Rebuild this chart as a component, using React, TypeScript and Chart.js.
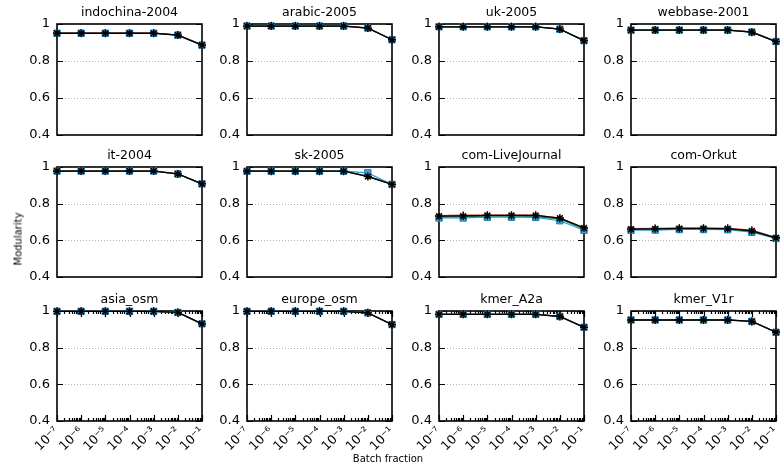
import React, { useEffect, useRef } from 'react';
import { Chart, registerables } from 'chart.js';
Chart.register(...registerables);

const FONT = '"DejaVu Sans", Verdana, sans-serif';

const xValues = [1e-7, 1e-6, 1e-5, 1e-4, 1e-3, 1e-2, 1e-1];
const xTickLabels = ['10⁻⁷', '10⁻⁶', '10⁻⁵', '10⁻⁴', '10⁻³', '10⁻²', '10⁻¹'];
const xMinorTicks = [2, 3, 4, 5, 6, 7, 8, 9];
const yTickValues = [0.4, 0.6, 0.8, 1];
const yTickLabels = ['0.4', '0.6', '0.8', '1'];
const yGridValues = [0.6, 0.8];

// series order in each panel: [blue squares, red plus, green x, black star]
const seriesColors = ['#2e9bd6', '#d42a2a', '#0f7a5c', '#000000'];
const seriesPointStyles = ['rect', 'cross', 'crossRot', 'star'];

const indochina2004 = [
  [0.950, 0.950, 0.950, 0.950, 0.950, 0.940, 0.886],
  [0.951, 0.951, 0.951, 0.951, 0.951, 0.941, 0.887],
  [0.950, 0.950, 0.950, 0.950, 0.950, 0.940, 0.886],
  [0.950, 0.950, 0.950, 0.950, 0.950, 0.940, 0.886],
];
const arabic2005 = [
  [0.989, 0.989, 0.989, 0.989, 0.989, 0.978, 0.915],
  [0.990, 0.990, 0.990, 0.990, 0.990, 0.979, 0.916],
  [0.989, 0.989, 0.989, 0.989, 0.989, 0.978, 0.915],
  [0.989, 0.989, 0.989, 0.989, 0.989, 0.978, 0.915],
];
const uk2005 = [
  [0.985, 0.985, 0.985, 0.985, 0.985, 0.972, 0.910],
  [0.986, 0.986, 0.986, 0.986, 0.986, 0.973, 0.911],
  [0.985, 0.985, 0.985, 0.985, 0.985, 0.972, 0.910],
  [0.985, 0.985, 0.985, 0.985, 0.985, 0.972, 0.910],
];
const webbase2001 = [
  [0.967, 0.967, 0.967, 0.967, 0.967, 0.956, 0.905],
  [0.968, 0.968, 0.968, 0.968, 0.968, 0.957, 0.906],
  [0.967, 0.967, 0.967, 0.967, 0.967, 0.956, 0.905],
  [0.967, 0.967, 0.967, 0.967, 0.967, 0.956, 0.905],
];
const it2004 = [
  [0.978, 0.978, 0.978, 0.978, 0.978, 0.962, 0.908],
  [0.979, 0.979, 0.979, 0.979, 0.979, 0.963, 0.909],
  [0.978, 0.978, 0.978, 0.978, 0.978, 0.962, 0.908],
  [0.978, 0.978, 0.978, 0.978, 0.978, 0.962, 0.908],
];
const sk2005 = [
  [0.977, 0.977, 0.977, 0.977, 0.977, 0.968, 0.905],
  [0.978, 0.978, 0.978, 0.978, 0.978, 0.950, 0.906],
  [0.977, 0.977, 0.977, 0.977, 0.977, 0.949, 0.905],
  [0.977, 0.977, 0.977, 0.977, 0.977, 0.948, 0.905],
];
const comLiveJournal = [
  [0.722, 0.722, 0.726, 0.726, 0.725, 0.707, 0.655],
  [0.735, 0.737, 0.738, 0.738, 0.738, 0.722, 0.669],
  [0.728, 0.729, 0.732, 0.732, 0.731, 0.716, 0.662],
  [0.732, 0.733, 0.736, 0.736, 0.736, 0.721, 0.668],
];
const comOrkut = [
  [0.655, 0.656, 0.659, 0.659, 0.658, 0.644, 0.610],
  [0.664, 0.666, 0.667, 0.667, 0.666, 0.656, 0.615],
  [0.659, 0.661, 0.663, 0.663, 0.662, 0.649, 0.612],
  [0.661, 0.663, 0.665, 0.665, 0.664, 0.652, 0.614],
];
const asiaOsm = [
  [0.998, 0.998, 0.998, 0.998, 0.998, 0.992, 0.930],
  [0.998, 0.998, 0.998, 0.998, 0.998, 0.992, 0.930],
  [0.998, 0.998, 0.998, 0.998, 0.998, 0.992, 0.930],
  [0.998, 0.998, 0.998, 0.998, 0.998, 0.992, 0.930],
];
const europeOsm = [
  [0.998, 0.998, 0.998, 0.998, 0.998, 0.990, 0.926],
  [0.998, 0.998, 0.998, 0.998, 0.998, 0.990, 0.926],
  [0.998, 0.998, 0.998, 0.998, 0.998, 0.990, 0.926],
  [0.998, 0.998, 0.998, 0.998, 0.998, 0.990, 0.926],
];
const kmerA2a = [
  [0.982, 0.982, 0.982, 0.982, 0.982, 0.970, 0.911],
  [0.983, 0.983, 0.983, 0.983, 0.983, 0.971, 0.912],
  [0.982, 0.982, 0.982, 0.982, 0.982, 0.970, 0.911],
  [0.982, 0.982, 0.982, 0.982, 0.982, 0.970, 0.911],
];
const kmerV1r = [
  [0.951, 0.951, 0.951, 0.951, 0.951, 0.943, 0.884],
  [0.952, 0.952, 0.952, 0.952, 0.952, 0.944, 0.885],
  [0.951, 0.951, 0.951, 0.951, 0.951, 0.943, 0.884],
  [0.951, 0.951, 0.951, 0.951, 0.951, 0.943, 0.884],
];

const panelTitles = [
  'indochina-2004', 'arabic-2005', 'uk-2005', 'webbase-2001',
  'it-2004', 'sk-2005', 'com-LiveJournal', 'com-Orkut',
  'asia_osm', 'europe_osm', 'kmer_A2a', 'kmer_V1r',
];
const panelData = [
  indochina2004, arabic2005, uk2005, webbase2001,
  it2004, sk2005, comLiveJournal, comOrkut,
  asiaOsm, europeOsm, kmerA2a, kmerV1r,
];

// layout (pixels)
const colLefts = [57, 247, 439, 631];
const rowTops = [24, 167, 311];
const rowHeights = [111, 110, 110];
const plotW = 145;
const leftM = 50;
const topM = 20;
const rightM = 8;

type PanelProps = { title: string; series: number[][]; left: number; top: number; h: number; bottomRow: boolean };

function Panel({ title, series, left, top, h, bottomRow }: PanelProps) {
  const ref = useRef<HTMLCanvasElement | null>(null);
  const bottomH = bottomRow ? 46 : 10;
  const W = leftM + plotW + rightM;
  const H = topM + h + bottomH;
  useEffect(() => {
    if (!ref.current) return;
    const framePlugin = {
      id: 'frame',
      beforeDatasetsDraw(chart: any) {
        const { ctx, chartArea: a, scales } = chart;
        const ys = scales.y;
        const xs = scales.x;
        ctx.save();
        // dotted grid
        ctx.strokeStyle = '#b4b4b4';
        ctx.lineWidth = 1;
        ctx.setLineDash([1, 2]);
        yGridValues.forEach((v) => {
          const py = Math.round(ys.getPixelForValue(v)) + 0.5;
          ctx.beginPath();
          ctx.moveTo(a.left + 8, py);
          ctx.lineTo(a.right - 8, py);
          ctx.stroke();
        });
        ctx.setLineDash([]);
        ctx.strokeStyle = '#000';
        ctx.lineWidth = 1.2;
        // y ticks
        yTickValues.forEach((v) => {
          const py = Math.round(ys.getPixelForValue(v)) + 0.5;
          ctx.beginPath();
          ctx.moveTo(a.left, py);
          ctx.lineTo(a.left + 6, py);
          ctx.moveTo(a.right, py);
          ctx.lineTo(a.right - 6, py);
          ctx.stroke();
        });
        if (bottomRow) {
          xValues.forEach((v) => {
            const px = Math.round(xs.getPixelForValue(v)) + 0.5;
            ctx.beginPath();
            ctx.moveTo(px, a.bottom);
            ctx.lineTo(px, a.bottom - 6);
            ctx.moveTo(px, a.top);
            ctx.lineTo(px, a.top + 6);
            ctx.stroke();
            if (v < 0.1) {
              xMinorTicks.forEach((k) => {
                const mx = Math.round(xs.getPixelForValue(v * k)) + 0.5;
                ctx.beginPath();
                ctx.moveTo(mx, a.bottom);
                ctx.lineTo(mx, a.bottom - 3);
                ctx.moveTo(mx, a.top);
                ctx.lineTo(mx, a.top + 3);
                ctx.stroke();
              });
            }
          });
        }
        // border
        ctx.lineWidth = 1.6;
        ctx.strokeRect(a.left, a.top, a.right - a.left, a.bottom - a.top);
        // title
        ctx.fillStyle = '#000';
        ctx.font = `12.5px ${FONT}`;
        ctx.textAlign = 'center';
        ctx.textBaseline = 'middle';
        ctx.fillText(title, (a.left + a.right) / 2, a.top - 11);
        ctx.restore();
      },
    };
    const chart = new Chart(ref.current, {
      type: 'line',
      data: {
        datasets: series.map((vals, si) => ({
          label: `series ${si + 1}`,
          data: xValues.map((x, i) => ({ x, y: vals[i] })),
          borderColor: seriesColors[si],
          backgroundColor: si === 0 ? '#3aa6e0' : seriesColors[si],
          pointBorderColor: si === 0 ? '#1d7bb8' : seriesColors[si],
          pointStyle: seriesPointStyles[si] as any,
          pointRadius: si === 0 ? 4.5 : 4,
          pointBorderWidth: si === 0 ? 1 : 1.3,
          borderWidth: si === 3 ? 1.3 : 1.2,
          order: 3 - si,
          clip: false as any,
          tension: 0,
          fill: false,
        })),
      },
      options: {
        animation: false,
        responsive: false,
        maintainAspectRatio: false,
        events: [],
        layout: { padding: { top: topM, right: rightM, left: 0, bottom: 0 } },
        plugins: { legend: { display: false }, tooltip: { enabled: false }, title: { display: false } },
        scales: {
          x: {
            type: 'logarithmic',
            min: 1e-7,
            max: 1e-1,
            grid: { display: false, drawTicks: false },
            border: { display: false },
            ticks: {
              display: bottomRow,
              autoSkip: false,
              minRotation: 45,
              maxRotation: 45,
              padding: 3,
              color: '#000',
              font: { family: FONT, size: 12.5 },
              callback: (_v: any, i: number) => xTickLabels[i],
            },
            afterBuildTicks: (s: any) => {
              s.ticks = xValues.map((v) => ({ value: v }));
            },
            afterFit: (s: any) => {
              s.height = bottomH;
              s.paddingLeft = 0;
              s.paddingRight = 0;
              s.paddingTop = 0;
              s.paddingBottom = 0;
            },
          },
          y: {
            min: 0.4,
            max: 1,
            grid: { display: false, drawTicks: false },
            border: { display: false },
            ticks: {
              padding: 7,
              color: '#000',
              font: { family: FONT, size: 13 },
              callback: (_v: any, i: number) => yTickLabels[i],
            },
            afterBuildTicks: (s: any) => {
              s.ticks = yTickValues.map((v) => ({ value: v }));
            },
            afterFit: (s: any) => {
              s.width = leftM;
              s.paddingTop = 0;
              s.paddingBottom = 0;
              s.paddingLeft = 0;
              s.paddingRight = 0;
            },
          },
        },
      } as any,
      plugins: [framePlugin],
    });
    return () => chart.destroy();
  }, [title, series, bottomRow, h]);
  return (
    <canvas
      ref={ref}
      width={W}
      height={H}
      style={{ position: 'absolute', left: left - leftM, top: top - topM, width: W, height: H }}
    />
  );
}

export default function App() {
  return (
    <div style={{ position: 'fixed', left: 0, top: 0, width: 781, height: 466, background: '#fff', overflow: 'hidden' }}>
      {panelTitles.map((t, i) => {
        const r = Math.floor(i / 4);
        const c = i % 4;
        return (
          <Panel
            key={t}
            title={t}
            series={panelData[i]}
            left={colLefts[c]}
            top={rowTops[r]}
            h={rowHeights[r]}
            bottomRow={r === 2}
          />
        );
      })}
      <div
        style={{
          position: 'absolute', left: 18, top: 239, transform: 'translate(-50%, -50%) rotate(-90deg)',
          font: `10px ${FONT}`, color: '#000', whiteSpace: 'nowrap',
        }}
      >
        Modularity
      </div>
      <div
        style={{
          position: 'absolute', left: 388, top: 458, transform: 'translate(-50%, -50%)',
          font: `10px ${FONT}`, color: '#000', whiteSpace: 'nowrap',
        }}
      >
        Batch fraction
      </div>
    </div>
  );
}
